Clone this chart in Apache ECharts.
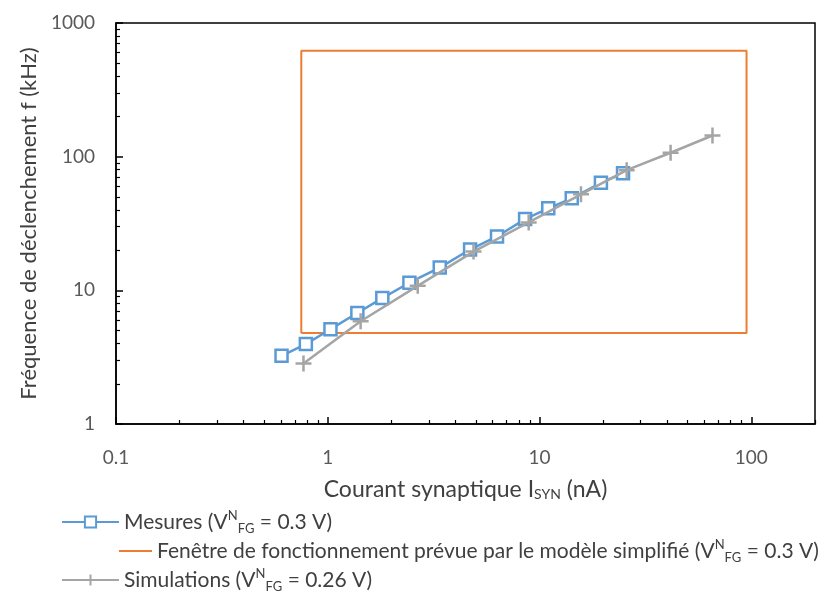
<!DOCTYPE html>
<html><head><meta charset="utf-8">
<script src="https://cdn.jsdelivr.net/npm/echarts@6/dist/echarts.min.js"></script>
<style>html,body{margin:0;padding:0;background:#fff}#c{width:830px;height:593px}</style>
</head><body><div id="c"></div>
<script>
// Mesures (V^N_FG = 0.3 V)
const mesuresX = [0.605, 0.788, 1.03, 1.38, 1.81, 2.43, 3.38, 4.70, 6.30, 8.55, 11.0, 14.2, 19.5, 24.8];
const mesuresY = [3.24, 3.96, 5.12, 6.77, 8.75, 11.4, 14.8, 20.2, 25.3, 34.1, 41.1, 48.8, 63.8, 75.0];
// Simulations (V^N_FG = 0.26 V)
const simX = [0.768, 1.43, 2.66, 4.88, 8.89, 15.7, 25.8, 41.6, 65.6];
const simY = [2.84, 5.87, 10.8, 19.5, 32.2, 52.3, 79.3, 107, 144];
// Fenêtre de fonctionnement (rectangle corners)
const windowX = [0.75, 95];
const windowY = [4.8, 620];
// Axes
const xTicks = [0.1, 1, 10, 100];
const yTicks = [1, 10, 100, 1000];
const xRange = [0.1, 200];
const yRange = [1, 1000];
const seriesNames = ['Mesures', 'Fenêtre', 'Simulations'];
const legendLabels = {
  'Mesures': 'Mesures (V{sup|N}{sub|FG} = 0.3 V)',
  'Fenêtre': 'Fenêtre de fonctionnement prévue par le modèle simplifié (V{sup|N}{sub|FG} = 0.3 V)',
  'Simulations': 'Simulations (V{sup|N}{sub|FG} = 0.26 V)'
};
const xTitle = 'Courant synaptique I{sub|SYN} (nA)';
const yTitle = 'Fréquence de déclenchement f (kHz)';

function minorValues(majors) {
  const out = [];
  for (let i = 0; i < majors.length - 1; i++) {
    for (let m = 2; m <= 9; m++) out.push(+(majors[i] * m).toPrecision(6));
  }
  return out;
}
const xMinor = minorValues(xTicks.concat([1000]));
const yMinor = minorValues(yTicks);

const FONT = "Lato, 'Open Sans', sans-serif";
const BLUE = '#5B9BD5', ORANGE = '#ED7D31', GRAY = '#A5A5A5';
const TXT = '#404040';

const rich = {
  sup: { fontSize: 13, verticalAlign: 'top', lineHeight: 26, color: TXT, fontFamily: FONT },
  sub: { fontSize: 13, verticalAlign: 'bottom', lineHeight: 19, color: TXT, fontFamily: FONT }
};

const windowData = [
  [windowX[0], windowY[0]], [windowX[1], windowY[0]], [windowX[1], windowY[1]],
  [windowX[0], windowY[1]], [windowX[0], windowY[0]]
];

function mkLegend(name, left, top, w, hideSymbol) {
  const l = {
    data: [name], left: left, top: top, orient: 'vertical',
    itemWidth: w, itemHeight: 14, padding: 0,
    formatter: n => legendLabels[n],
    textStyle: { fontSize: 21, color: TXT, fontFamily: FONT, lineHeight: 26, rich: rich }
  };
  if (hideSymbol) l.itemStyle = { color: 'rgba(0,0,0,0)', borderWidth: 0, opacity: 0 };
  return l;
}

const chart = echarts.init(document.getElementById('c'), null, { renderer: 'canvas' });
chart.setOption({
  animation: false,
  backgroundColor: '#fff',
  grid: { left: 116, right: 15, top: 23, bottom: 169, show: true, borderColor: '#000', borderWidth: 1.5, outerBoundsMode: 'none' },
  legend: [
    mkLegend(seriesNames[0], 61, 509, 57, false),
    mkLegend(seriesNames[1], 118, 538, 33, true),
    mkLegend(seriesNames[2], 61, 567, 57, false)
  ],
  xAxis: [{
    type: 'log', logBase: 10, min: xRange[0], max: xRange[1],
    name: xTitle, nameLocation: 'middle', nameGap: 54,
    nameTextStyle: { fontSize: 23, color: TXT, fontFamily: FONT, rich: { sub: { fontSize: 14, verticalAlign: 'bottom', lineHeight: 18, color: TXT, fontFamily: FONT } } },
    axisLine: { show: true, lineStyle: { color: '#000', width: 1.5 } },
    axisTick: { show: true, inside: true, length: 7, lineStyle: { color: '#000', width: 1.5 }, customValues: xTicks },
    axisLabel: { fontSize: 19, color: '#595959', fontFamily: FONT, margin: 24, customValues: xTicks, formatter: v => String(v) },
    splitLine: { show: false }
  }, {
    type: 'log', logBase: 10, min: xRange[0], max: xRange[1], position: 'bottom',
    axisLine: { show: false },
    axisTick: { show: true, inside: true, length: 4, lineStyle: { color: '#000', width: 1.2 }, customValues: xMinor },
    axisLabel: { show: false }, splitLine: { show: false }
  }],
  yAxis: [{
    type: 'log', logBase: 10, min: yRange[0], max: yRange[1],
    name: yTitle, nameLocation: 'middle', nameGap: 73,
    nameTextStyle: { fontSize: 22, color: TXT, fontFamily: FONT },
    axisLine: { show: true, lineStyle: { color: '#000', width: 1.5 } },
    axisTick: { show: true, inside: true, length: 7, lineStyle: { color: '#000', width: 1.5 }, customValues: yTicks },
    axisLabel: { fontSize: 19, color: '#595959', fontFamily: FONT, margin: 21, customValues: yTicks, formatter: v => String(v) },
    splitLine: { show: false }
  }, {
    type: 'log', logBase: 10, min: yRange[0], max: yRange[1], position: 'left',
    axisLine: { show: false },
    axisTick: { show: true, inside: true, length: 4, lineStyle: { color: '#000', width: 1.2 }, customValues: yMinor },
    axisLabel: { show: false }, splitLine: { show: false }
  }],
  series: [{
    name: seriesNames[0], type: 'line',
    data: mesuresX.map((x, i) => [x, mesuresY[i]]),
    symbol: 'rect', symbolSize: 12,
    lineStyle: { color: BLUE, width: 2.5 },
    itemStyle: { color: '#fff', borderColor: BLUE, borderWidth: 2.5 },
    z: 2
  }, {
    name: seriesNames[1], type: 'line', data: windowData,
    symbol: 'none', lineStyle: { color: ORANGE, width: 2 }, itemStyle: { color: ORANGE }, z: 1
  }, {
    name: seriesNames[2], type: 'line',
    data: simX.map((x, i) => [x, simY[i]]),
    symbol: 'path://M0,5 L10,5 M5,0 L5,10', symbolSize: 16,
    lineStyle: { color: GRAY, width: 2.5 },
    itemStyle: { color: 'none', borderColor: GRAY, borderWidth: 2.5 },
    z: 3
  }]
});
</script>
</body></html>
